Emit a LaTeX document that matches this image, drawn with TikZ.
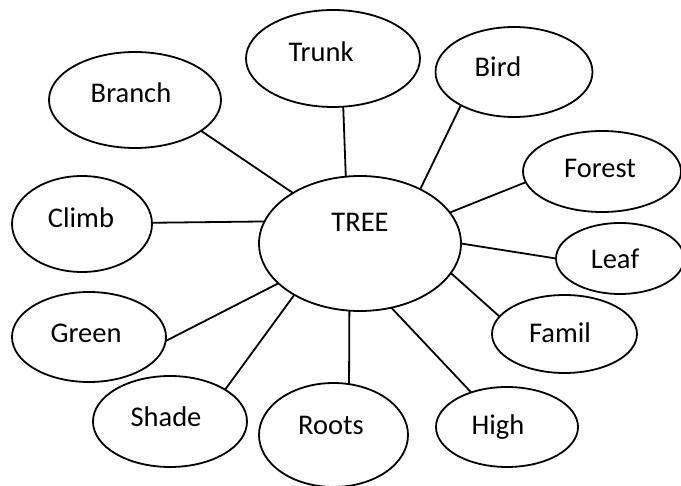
\documentclass[tikz,border=0pt]{standalone}
\usepackage{fontspec}
\setmainfont{Carlito}
\usetikzlibrary{shapes.geometric}
\begin{document}
\begin{tikzpicture}[x=1pt,y=-1pt,
  bubble/.style={ellipse, draw=black, line width=1.8pt, inner sep=0pt, outer sep=0pt},
  word/.style={anchor=base, inner sep=0pt, font=\fontsize{28.5}{34}\selectfont},
  conn/.style={draw=black, line width=1.8pt}]
\useasboundingbox (0,0) rectangle (681,486);
% ellipses
\node[bubble, minimum width=202pt, minimum height=135pt] (tree) at (360,243.5) {};
\node[bubble, minimum width=174pt, minimum height=97pt] (trunk) at (333,58.5) {};
\node[bubble, minimum width=157pt, minimum height=90pt] (bird) at (514,72) {};
\node[bubble, minimum width=172pt, minimum height=96pt] (branch) at (135,100) {};
\node[bubble, minimum width=158pt, minimum height=81pt] (forest) at (602,171.5) {};
\node[bubble, minimum width=140pt, minimum height=96pt] (climb) at (82,224) {};
\node[bubble, minimum width=128pt, minimum height=71pt] (leaf) at (620,258.5) {};
\node[bubble, minimum width=154pt, minimum height=90pt] (green) at (89,337) {};
\node[bubble, minimum width=145pt, minimum height=78pt] (famil) at (564.5,334) {};
\node[bubble, minimum width=154pt, minimum height=91pt] (shade) at (170,421.5) {};
\node[bubble, minimum width=149pt, minimum height=104pt] (roots) at (333.5,435) {};
\node[bubble, minimum width=142pt, minimum height=80pt] (high) at (507,427) {};
% texts
\node[word] (ttree) at (360,232) {TREE};
\node[word] (ttrunk) at (321,62) {Trunk};
\node[word] (tbird) at (498,77) {Bird};
\node[word] (tbranch) at (131,103) {Branch};
\node[word] (tforest) at (600,178) {Forest};
\node[word] (tclimb) at (81,228) {Climb};
\node[word] (tleaf) at (615,269) {Leaf};
\node[word] (tgreen) at (86,343) {Green};
\node[word] (tfamil) at (560,343) {Famil};
\node[word] (tshade) at (166,427) {Shade};
\node[word] (troots) at (331,435) {Roots};
\node[word] (thigh) at (498,435) {High};
% connectors
\draw[conn] (tree.143) -- (branch.-25.2);
\draw[conn] (tree.167.9) -- (climb.1.6);
\draw[conn] (tree.102.7) -- (trunk.-78.4);
\draw[conn] (tree.42.2) -- (bird.212.2);
\draw[conn] (tree.19.3) -- (forest.188.6);
\draw[conn] (tree.-0.9) -- (leaf.180);
\draw[conn] (tree.-18.5) -- (famil.165.4);
\draw[conn] (tree.-64.6) -- (high.136.6);
\draw[conn] (tree.261.4) -- (roots.73.9);
\draw[conn] (tree.218) -- (shade.30.3);
\draw[conn] (tree.206.6) -- (green.-3.7);
\end{tikzpicture}
\end{document}
